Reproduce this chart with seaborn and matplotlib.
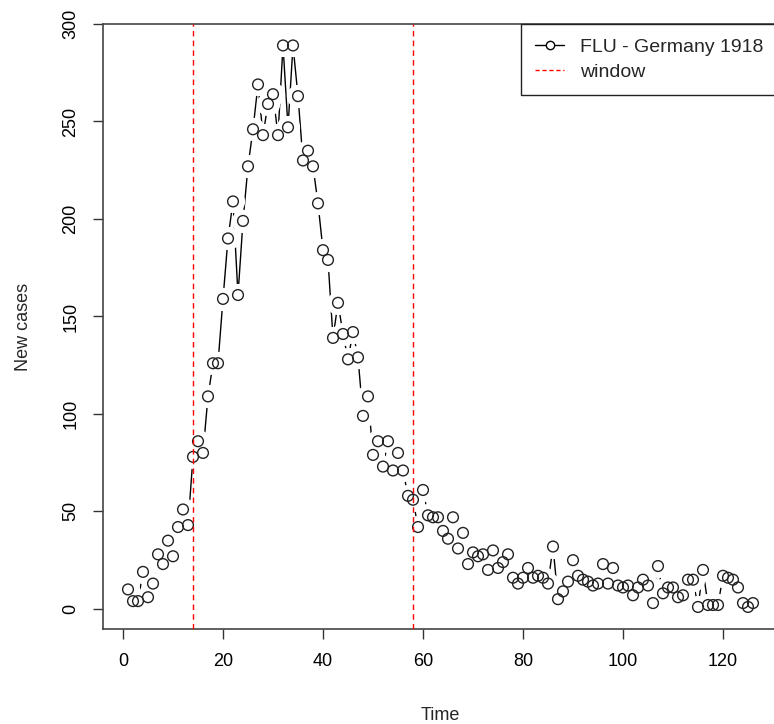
import numpy as np
import pandas as pd
import seaborn as sns
import matplotlib.pyplot as plt
from matplotlib.lines import Line2D

# daily incidence, Germany 1918 flu
cases = [10, 4, 4, 19, 6, 13, 28, 23, 35, 27,
         42, 51, 43, 78, 86, 80, 109, 126, 126, 159,
         190, 209, 161, 199, 227, 246, 269, 243, 259, 264,
         243, 289, 247, 289, 263, 230, 235, 227, 208, 184,
         179, 139, 157, 141, 128, 142, 129, 99, 109, 79,
         86, 73, 86, 71, 80, 71, 58, 56, 42, 61,
         48, 47, 47, 40, 36, 47, 31, 39, 23, 29,
         27, 28, 20, 30, 21, 24, 28, 16, 13, 16,
         21, 16, 17, 16, 13, 32, 5, 9, 14, 25,
         17, 15, 14, 12, 13, 23, 13, 21, 12, 11,
         12, 7, 11, 15, 12, 3, 22, 8, 11, 11,
         6, 7, 15, 15, 1, 20, 2, 2, 2, 17,
         16, 15, 11, 3, 1, 3]
time = list(range(1, len(cases) + 1))
window = [14, 58]
xticks = [0, 20, 40, 60, 80, 100, 120]
yticks = [0, 50, 100, 150, 200, 250, 300]

df = pd.DataFrame({"Time": time, "cases": cases})

sns.set_style("white")
plt.rcParams['font.family'] = ['Liberation Sans', 'DejaVu Sans']

fig = plt.figure(figsize=(7.74, 7.24), dpi=100)
ax = fig.add_axes([103 / 774, 95 / 724, (778 - 103) / 774, (629 - 24) / 724])

# R style type="b": line with gaps around the points
sns.lineplot(data=df, x="Time", y="cases", color="black", lw=1, ax=ax, zorder=2)
ax.scatter(df["Time"], df["cases"], s=280, color="white", zorder=3, linewidths=0)
sns.scatterplot(data=df, x="Time", y="cases", s=60, facecolor="none",
                edgecolor="#222222", linewidth=1, ax=ax, zorder=4)

for w in window:
    ax.axvline(w, color="red", lw=1, ls=(0, (4, 3)), zorder=5)

ax.set_xlim(-4, 131)
ax.set_ylim(-10.3, 300)
ax.set_xticks(xticks)
ax.set_yticks(yticks)
ax.set_yticklabels([str(v) for v in yticks], rotation=90, va="center")
ax.tick_params(axis="both", direction="out", length=7, width=1, colors="#333333",
               labelsize=13, labelcolor="black", pad=10, bottom=True, left=True)
for s in ax.spines.values():
    s.set_color("#444444")
    s.set_linewidth(1.2)

ax.set_xlabel("Time", fontsize=13, labelpad=27)
ax.set_ylabel("New cases", fontsize=13, labelpad=22)

handles = [Line2D([], [], color="black", lw=1, marker="o", mfc="white", mec="black", ms=6),
           Line2D([], [], color="red", lw=1, ls=(0, (3, 2)))]
leg = ax.legend(handles, ["FLU - Germany 1918", "window"], loc="upper right",
                borderaxespad=0, fancybox=False, framealpha=1, edgecolor="#222222",
                fontsize=14, handlelength=1.5, handletextpad=0.8, borderpad=0.75,
                labelspacing=0.35)
leg.get_frame().set_linewidth(1)

plt.savefig("out.png", dpi=100)
